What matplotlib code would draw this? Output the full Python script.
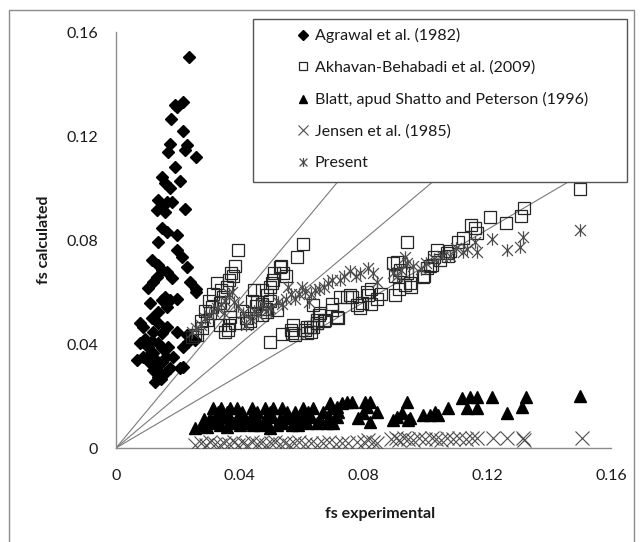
import numpy as np
import matplotlib
matplotlib.use("Agg")
import matplotlib.pyplot as plt
from matplotlib.path import Path
from matplotlib.patches import Rectangle

plt.rcParams['font.family'] = ['Lato', 'DejaVu Sans']

# Agrawal et al. (1982)
agrawal_x = [0.0236, 0.0191, 0.0216, 0.0198, 0.0178, 0.0216, 0.0175, 0.0169, 0.0230, 0.0223,
             0.0258, 0.0191, 0.0148, 0.0158, 0.0175, 0.0207, 0.0137, 0.0148, 0.0164, 0.0180,
             0.0223, 0.0131, 0.0158, 0.0148, 0.0164, 0.0196, 0.0137, 0.0196, 0.0212, 0.0229,
             0.0115, 0.0137, 0.0148, 0.0131, 0.0121, 0.0164, 0.0180, 0.0239, 0.0259, 0.0104,
             0.0110, 0.0158, 0.0148, 0.0175, 0.0164, 0.0137, 0.0198, 0.0088, 0.0078, 0.0115,
             0.0121, 0.0137, 0.0148, 0.0164, 0.0196, 0.0229, 0.0218, 0.0255, 0.0078, 0.0088,
             0.0067, 0.0104, 0.0121, 0.0137, 0.0148, 0.0169, 0.0185, 0.0207, 0.0110, 0.0126,
             0.0142, 0.0126, 0.0137, 0.0158, 0.0175, 0.0260, 0.0234, 0.0217, 0.0095, 0.0115,
             0.0130, 0.0150, 0.0160, 0.0100, 0.0120, 0.0145]
agrawal_y = [0.1505, 0.1319, 0.1332, 0.1310, 0.1265, 0.1220, 0.1169, 0.1137, 0.1165, 0.1146,
             0.1120, 0.1082, 0.1043, 0.1018, 0.0999, 0.1027, 0.0954, 0.0935, 0.0947, 0.0947,
             0.0919, 0.0915, 0.0909, 0.0845, 0.0832, 0.0819, 0.0794, 0.0762, 0.0736, 0.0697,
             0.0723, 0.0704, 0.0685, 0.0659, 0.0640, 0.0678, 0.0653, 0.0640, 0.0601, 0.0614,
             0.0557, 0.0582, 0.0569, 0.0569, 0.0543, 0.0524, 0.0572, 0.0467, 0.0480, 0.0499,
             0.0447, 0.0480, 0.0441, 0.0467, 0.0447, 0.0435, 0.0390, 0.0415, 0.0403, 0.0351,
             0.0338, 0.0390, 0.0364, 0.0403, 0.0383, 0.0390, 0.0351, 0.0307, 0.0326, 0.0313,
             0.0287, 0.0255, 0.0274, 0.0287, 0.0307, 0.0610, 0.0408, 0.0310, 0.0420, 0.0410,
             0.0340, 0.0330, 0.0350, 0.0350, 0.0300, 0.0265]

# Akhavan-Behabadi et al. (2009)
akhavan_x = [0.1500, 0.1320, 0.1310, 0.1260, 0.1210, 0.1160, 0.1147, 0.1167, 0.1120, 0.1107,
             0.1081, 0.1074, 0.1028, 0.1015, 0.0995, 0.0942, 0.0895, 0.0902, 0.0929, 0.0949,
             0.0955, 0.0915, 0.0902, 0.0823, 0.0816, 0.0790, 0.0843, 0.0823, 0.0757, 0.0724,
             0.0697, 0.0717, 0.0657, 0.0671, 0.0651, 0.0638, 0.0631, 0.0611, 0.0571, 0.0565,
             0.0578, 0.0499, 0.0538, 0.0605, 0.0584, 0.0395, 0.0386, 0.0373, 0.0366, 0.0360,
             0.0379, 0.0327, 0.0313, 0.0300, 0.0340, 0.0347, 0.0287, 0.0274, 0.0254, 0.0446,
             0.0439, 0.0452, 0.0472, 0.0499, 0.0505, 0.0512, 0.0532, 0.0551, 0.0366, 0.0353,
             0.0406, 0.0419, 0.0433, 0.0472, 0.0485, 0.0856, 0.0907, 0.0918, 0.0940, 0.0934,
             0.0993, 0.1004, 0.1020, 0.1036, 0.1047, 0.1069, 0.0810, 0.0794, 0.0746, 0.0762,
             0.0778, 0.0638, 0.0659, 0.0676, 0.0649, 0.0627, 0.0616, 0.0697, 0.0713, 0.0309,
             0.0304, 0.0293, 0.0277, 0.0261, 0.0245, 0.0336, 0.0368, 0.0385, 0.0363, 0.0336,
             0.0455, 0.0471, 0.0487, 0.0498, 0.0509, 0.0530, 0.0541, 0.0423, 0.0568, 0.0616,
             0.0649, 0.0519, 0.0487]
akhavan_y = [0.0998, 0.0925, 0.0892, 0.0865, 0.0890, 0.0846, 0.0859, 0.0826, 0.0806, 0.0792,
             0.0759, 0.0739, 0.0733, 0.0700, 0.0660, 0.0792, 0.0713, 0.0660, 0.0673, 0.0633,
             0.0619, 0.0613, 0.0587, 0.0613, 0.0587, 0.0540, 0.0573, 0.0553, 0.0587, 0.0581,
             0.0553, 0.0500, 0.0513, 0.0487, 0.0480, 0.0467, 0.0447, 0.0454, 0.0473, 0.0454,
             0.0433, 0.0407, 0.0440, 0.0785, 0.0733, 0.0762, 0.0700, 0.0673, 0.0646, 0.0619,
             0.0660, 0.0633, 0.0593, 0.0567, 0.0606, 0.0580, 0.0527, 0.0487, 0.0433, 0.0606,
             0.0567, 0.0546, 0.0554, 0.0567, 0.0633, 0.0673, 0.0700, 0.0660, 0.0473, 0.0447,
             0.0527, 0.0500, 0.0487, 0.0513, 0.0533, 0.0593, 0.0717, 0.0685, 0.0672, 0.0627,
             0.0659, 0.0691, 0.0704, 0.0762, 0.0723, 0.0749, 0.0601, 0.0556, 0.0582, 0.0582,
             0.0550, 0.0550, 0.0518, 0.0492, 0.0480, 0.0467, 0.0441, 0.0531, 0.0505, 0.0543,
             0.0518, 0.0492, 0.0460, 0.0435, 0.0428, 0.0556, 0.0505, 0.0480, 0.0454, 0.0473,
             0.0563, 0.0608, 0.0589, 0.0620, 0.0646, 0.0697, 0.0672, 0.0480, 0.0441, 0.0467,
             0.0492, 0.0531, 0.0524]

# Blatt, apud Shatto and Peterson (1996)
blatt_x = [0.0255, 0.0277, 0.0293, 0.0315, 0.0336, 0.0358, 0.0379, 0.0401, 0.0423, 0.0444,
           0.0465, 0.0487, 0.0498, 0.0519, 0.0541, 0.0568, 0.0589, 0.0616, 0.0649, 0.0681,
           0.0703, 0.0285, 0.0305, 0.0325, 0.0345, 0.0370, 0.0390, 0.0410, 0.0435, 0.0455,
           0.0480, 0.0505, 0.0530, 0.0555, 0.0575, 0.0600, 0.0630, 0.0660, 0.0690, 0.0315,
           0.0341, 0.0368, 0.0390, 0.0439, 0.0482, 0.0509, 0.0536, 0.0605, 0.0638, 0.0697,
           0.0331, 0.0358, 0.0406, 0.0455, 0.0498, 0.0552, 0.0579, 0.0622, 0.0670, 0.0719,
           0.0692, 0.0713, 0.0730, 0.0746, 0.0762, 0.0805, 0.0821, 0.0810, 0.0713, 0.0783,
           0.0799, 0.0821, 0.0843, 0.0940, 0.0907, 0.0896, 0.0923, 0.0950, 0.0945, 0.0993,
           0.1015, 0.1031, 0.1042, 0.1074, 0.1117, 0.1144, 0.1166, 0.1133, 0.1166, 0.1214,
           0.1263, 0.1311, 0.1325, 0.1500]
blatt_y = [0.0076, 0.0088, 0.0082, 0.0095, 0.0088, 0.0082, 0.0095, 0.0088, 0.0095, 0.0088,
           0.0088, 0.0095, 0.0076, 0.0088, 0.0095, 0.0088, 0.0088, 0.0095, 0.0095, 0.0095,
           0.0095, 0.0110, 0.0115, 0.0112, 0.0118, 0.0110, 0.0115, 0.0112, 0.0118, 0.0112,
           0.0110, 0.0118, 0.0112, 0.0115, 0.0118, 0.0112, 0.0118, 0.0112, 0.0118, 0.0154,
           0.0154, 0.0154, 0.0154, 0.0154, 0.0154, 0.0154, 0.0154, 0.0154, 0.0154, 0.0154,
           0.0140, 0.0140, 0.0140, 0.0140, 0.0140, 0.0140, 0.0140, 0.0140, 0.0140, 0.0140,
           0.0172, 0.0159, 0.0172, 0.0178, 0.0178, 0.0178, 0.0178, 0.0159, 0.0120, 0.0114,
           0.0133, 0.0101, 0.0140, 0.0178, 0.0120, 0.0108, 0.0133, 0.0114, 0.0108, 0.0127,
           0.0127, 0.0140, 0.0127, 0.0153, 0.0191, 0.0197, 0.0197, 0.0153, 0.0153, 0.0197,
           0.0133, 0.0159, 0.0197, 0.0200]

# Jensen et al. (1985)
jensen_x = [0.0255, 0.0275, 0.0290, 0.0305, 0.0320, 0.0335, 0.0350, 0.0365, 0.0380, 0.0395,
            0.0410, 0.0425, 0.0440, 0.0455, 0.0470, 0.0485, 0.0500, 0.0515, 0.0530, 0.0545,
            0.0560, 0.0575, 0.0590, 0.0610, 0.0630, 0.0650, 0.0670, 0.0690, 0.0710, 0.0730,
            0.0750, 0.0780, 0.0800, 0.0815, 0.0830, 0.0845, 0.0890, 0.0905, 0.0915, 0.0930,
            0.0945, 0.0960, 0.0980, 0.1000, 0.1020, 0.1035, 0.1050, 0.1070, 0.1090, 0.1110,
            0.1130, 0.1150, 0.1167, 0.1219, 0.1263, 0.1316, 0.1320, 0.1506]
jensen_y = [0.0010, 0.0020, 0.0012, 0.0022, 0.0015, 0.0010, 0.0020, 0.0015, 0.0022, 0.0012,
            0.0018, 0.0010, 0.0022, 0.0015, 0.0020, 0.0012, 0.0018, 0.0022, 0.0015, 0.0020,
            0.0012, 0.0018, 0.0022, 0.0015, 0.0020, 0.0012, 0.0018, 0.0022, 0.0015, 0.0020,
            0.0018, 0.0022, 0.0025, 0.0030, 0.0025, 0.0020, 0.0035, 0.0040, 0.0030, 0.0038,
            0.0035, 0.0030, 0.0038, 0.0035, 0.0040, 0.0035, 0.0030, 0.0038, 0.0035, 0.0040,
            0.0035, 0.0038, 0.0040, 0.0038, 0.0040, 0.0038, 0.0032, 0.0040]

# Present
present_x = [0.1500, 0.1317, 0.1306, 0.1263, 0.1214, 0.1166, 0.1123, 0.1160, 0.1134, 0.1055,
             0.1080, 0.1028, 0.1002, 0.0935, 0.0942, 0.0895, 0.0908, 0.0922, 0.0816, 0.0830,
             0.0790, 0.0777, 0.0757, 0.0737, 0.0724, 0.0697, 0.0684, 0.0671, 0.0657, 0.0644,
             0.0631, 0.0611, 0.0591, 0.0578, 0.0565, 0.0551, 0.0538, 0.0525, 0.0499, 0.0485,
             0.0472, 0.0459, 0.0446, 0.0433, 0.0419, 0.0366, 0.0353, 0.0340, 0.0327, 0.0313,
             0.0300, 0.0287, 0.0274, 0.0260, 0.0247, 0.0380, 0.0395, 0.0410, 0.0350, 0.0375,
             0.0600, 0.0625, 0.0555, 0.0845, 0.0960, 0.0985, 0.1100]
present_y = [0.0838, 0.0813, 0.0774, 0.0762, 0.0803, 0.0755, 0.0755, 0.0792, 0.0766, 0.0739,
             0.0739, 0.0727, 0.0713, 0.0733, 0.0713, 0.0673, 0.0660, 0.0686, 0.0692, 0.0673,
             0.0673, 0.0660, 0.0679, 0.0660, 0.0646, 0.0646, 0.0633, 0.0619, 0.0613, 0.0606,
             0.0593, 0.0600, 0.0593, 0.0573, 0.0593, 0.0573, 0.0553, 0.0560, 0.0540, 0.0527,
             0.0553, 0.0513, 0.0527, 0.0500, 0.0473, 0.0593, 0.0567, 0.0553, 0.0540, 0.0527,
             0.0513, 0.0500, 0.0473, 0.0460, 0.0447, 0.0560, 0.0545, 0.0520, 0.0520, 0.0600,
             0.0620, 0.0560, 0.0620, 0.0640, 0.0700, 0.0690, 0.0770]

# reference lines: y = x / 0.7, y = x, y = 0.7 x
ref_slopes = [1 / 0.7, 1.0, 0.7]
ticks = [0, 0.04, 0.08, 0.12, 0.16]
tick_labels = ["0", "0.04", "0.08", "0.12", "0.16"]

W, H = 642, 542
fig = plt.figure(figsize=(W / 100, H / 100), dpi=100, facecolor='white')
ax = fig.add_axes([116 / W, 1 - 448 / H, (611 - 116) / W, (448 - 32) / H])

# outer chart border
fig.patches.append(Rectangle((9 / W, -0.05), (634 - 9) / W, 1 - 10 / H + 0.05,
                             transform=fig.transFigure, fill=False,
                             edgecolor='#8c8c8c', linewidth=1.0))

for s in ref_slopes:
    xe = min(0.16, 0.16 / s)
    ax.plot([0, xe], [0, s * xe], color='#7a7a7a', linewidth=0.8, zorder=1)

star = Path([(-1, -1), (1, 1), (-1, 1), (1, -1), (0, -1.15), (0, 1.15)],
            [Path.MOVETO, Path.LINETO, Path.MOVETO, Path.LINETO, Path.MOVETO, Path.LINETO])

h1, = ax.plot(agrawal_x, agrawal_y, linestyle='none', marker='D', markersize=6.4,
              color='black', label='Agrawal et al. (1982)', zorder=3)
h2, = ax.plot(akhavan_x, akhavan_y, linestyle='none', marker='s', markersize=8.4,
              markerfacecolor='none', markeredgecolor='#262626', markeredgewidth=0.9,
              label='Akhavan-Behabadi et al. (2009)', zorder=3)
h3, = ax.plot(blatt_x, blatt_y, linestyle='none', marker='^', markersize=8.4,
              color='black', label='Blatt, apud Shatto and Peterson (1996)', zorder=3)
h4, = ax.plot(jensen_x, jensen_y, linestyle='none', marker='x', markersize=9.5,
              markeredgecolor='#4d4d4d', markeredgewidth=0.8,
              label='Jensen et al. (1985)', zorder=3)
h5, = ax.plot(present_x, present_y, linestyle='none', marker=star, markersize=9,
              markeredgecolor='#4d4d4d', markeredgewidth=0.9,
              label='Present', zorder=3)

ax.set_xlim(0, 0.16)
ax.set_ylim(0, 0.16)
ax.set_xticks(ticks)
ax.set_xticklabels(tick_labels)
ax.set_yticks(ticks)
ax.set_yticklabels(tick_labels)
ax.tick_params(axis='both', length=0, labelsize=11.5, colors='#1a1a1a')
ax.tick_params(axis='x', pad=15)
ax.tick_params(axis='y', pad=13)

for side in ['top', 'right']:
    ax.spines[side].set_visible(False)
for side in ['left', 'bottom']:
    ax.spines[side].set_color('#8c8c8c')
    ax.spines[side].set_linewidth(1.0)

ax.set_xlabel('fs experimental', fontsize=11.5, fontweight='bold', color='#1a1a1a')
ax.set_ylabel('fs calculated', fontsize=11.5, fontweight='bold', color='#1a1a1a')
ax.xaxis.set_label_coords(0.533, -0.143)
ax.yaxis.set_label_coords(-0.131, 0.5)

# legend frame + entries
fig.patches.append(Rectangle((253 / W, 1 - 182 / H), (627 - 253) / W, (182 - 19) / H,
                             transform=fig.transFigure, facecolor='white',
                             edgecolor='#555555', linewidth=1.0, zorder=5))
leg = fig.legend(handles=[h1, h2, h3, h4, h5], loc='upper left',
                 bbox_to_anchor=(285 / W, 1 - 17 / H), frameon=False,
                 fontsize=11.5, markerscale=0.72, handlelength=0.9,
                 handletextpad=0.25, labelspacing=1.08, borderpad=0.2, numpoints=1)
leg.set_zorder(6)
for t in leg.get_texts():
    t.set_color('#1a1a1a')

fig.savefig('out.png', dpi=100, facecolor='white')
